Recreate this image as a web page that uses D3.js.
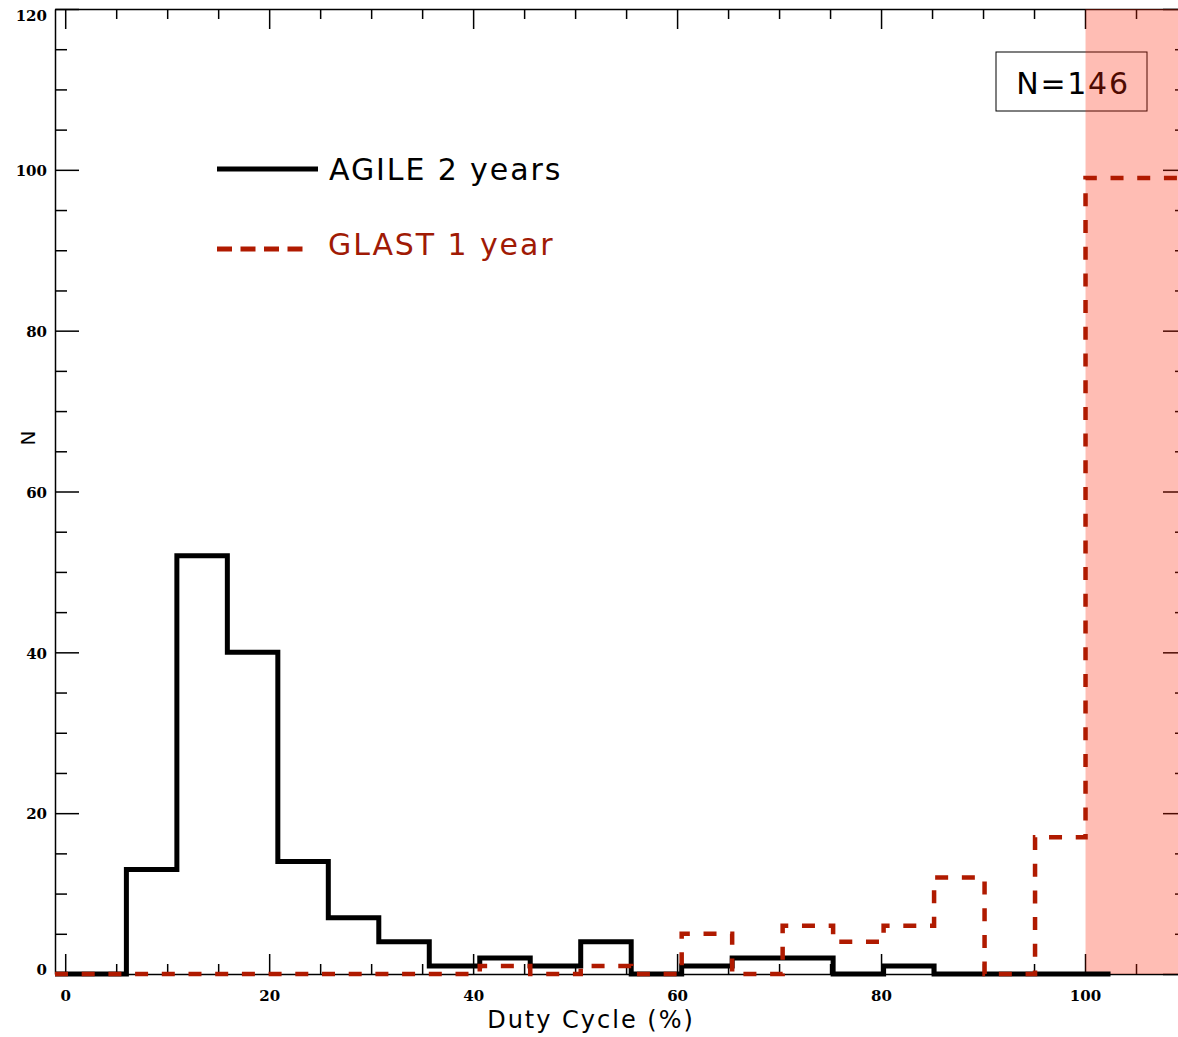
<!DOCTYPE html>
<html>
<head>
<meta charset="utf-8">
<script src="https://cdn.jsdelivr.net/npm/d3@7"></script>
<style>
  body { margin: 0; background: #fff; }
  .tick text { font-family: "DejaVu Serif", serif; font-weight: bold; font-size: 15px; fill: #000; }
  .domain, .tick line { stroke: #000; stroke-width: 1.5px; }
</style>
</head>
<body>
<div id="chart"></div>
<script>
// bin edges of the duty-cycle histogram (%), first bin starts at the plot edge
var binEdges = [-1, 6, 10.95, 15.9, 20.85, 25.8, 30.75, 35.7, 40.65, 45.6, 50.55,
                55.5, 60.45, 65.4, 70.35, 75.3, 80.25, 85.2, 90.15, 95.1, 100.05];
// counts per bin, last value = bin after 100.05
var agileCounts = [0, 13, 52, 40, 14, 7, 4, 1, 2, 1, 4, 0, 1, 2, 2, 0, 1, 0, 0, 0, 0];
var glastCounts = [0, 0, 0, 0, 0, 0, 0, 0, 1, 0, 1, 0, 5, 0, 6, 4, 6, 12, 0, 17, 99];
var agileEnd = 102.5;
var glastEnd = 110;

var xMajor = [0, 20, 40, 60, 80, 100];
var yMajor = [0, 20, 40, 60, 80, 100, 120];
var legendLabels = ["AGILE 2 years", "GLAST 1 year"];
var totalLabel = "N=146";

var width = 1178, height = 1037;
var redCol = "#b01a00";
var sans = "'DejaVu Sans', Verdana, sans-serif";

var svg = d3.select("#chart").append("svg")
    .attr("width", width)
    .attr("height", height);

var x = d3.scaleLinear().domain([-1, 110]).range([55, 1187]);
var y = d3.scaleLinear().domain([0, 120]).range([974, 9]);

var xMinor = d3.range(0, 111, 5).filter(function (d) { return d % 20 != 0; });
var yMinor = d3.range(0, 121, 5).filter(function (d) { return d % 20 != 0; });

// axes (IDL style box, ticks inward)
svg.append("g").attr("transform", "translate(0," + y(0) + ")")
    .call(d3.axisBottom(x).tickValues(xMajor).tickSize(-20).tickSizeOuter(0).tickPadding(16));
svg.append("g").attr("transform", "translate(0," + y(0) + ")")
    .call(d3.axisBottom(x).tickValues(xMinor).tickSize(-10).tickFormat(""))
    .select(".domain").remove();

svg.append("g").attr("transform", "translate(0," + y(120) + ")")
    .call(d3.axisTop(x).tickValues(xMajor).tickSize(-20).tickSizeOuter(0).tickFormat(""));
svg.append("g").attr("transform", "translate(0," + y(120) + ")")
    .call(d3.axisTop(x).tickValues(xMinor).tickSize(-10).tickFormat(""))
    .select(".domain").remove();

var left = svg.append("g").attr("transform", "translate(" + x(-1) + ",0)")
    .call(d3.axisLeft(y).tickValues(yMajor).tickSize(-24).tickSizeOuter(0).tickPadding(8));
svg.append("g").attr("transform", "translate(" + x(-1) + ",0)")
    .call(d3.axisLeft(y).tickValues(yMinor).tickSize(-12).tickFormat(""))
    .select(".domain").remove();

svg.append("g").attr("transform", "translate(" + x(110) + ",0)")
    .call(d3.axisRight(y).tickValues(yMajor).tickSize(-24).tickSizeOuter(0).tickFormat(""));
svg.append("g").attr("transform", "translate(" + x(110) + ",0)")
    .call(d3.axisRight(y).tickValues(yMinor).tickSize(-12).tickFormat(""))
    .select(".domain").remove();

// keep the end labels inside the box, like IDL
left.selectAll(".tick text")
    .attr("dy", function (d) { return d == 0 ? "0.0em" : d == 120 ? "0.75em" : "0.38em"; });

// axis titles
svg.append("text")
    .attr("x", 591).attr("y", 1028)
    .attr("text-anchor", "middle")
    .style("font-family", sans)
    .style("font-size", "24px")
    .style("letter-spacing", "2px")
    .text("Duty Cycle (%)");

svg.append("text")
    .attr("transform", "translate(35,438)rotate(-90)")
    .attr("text-anchor", "middle")
    .style("font-family", sans)
    .style("font-size", "20px")
    .text("N");

// total box
svg.append("rect")
    .attr("x", 996).attr("y", 52).attr("width", 151).attr("height", 59)
    .attr("fill", "none").attr("stroke", "#000").attr("stroke-width", 1);
svg.append("text")
    .attr("x", 1073).attr("y", 94)
    .attr("text-anchor", "middle")
    .style("font-family", sans)
    .style("font-size", "30px")
    .style("letter-spacing", "1.7px")
    .text(totalLabel);

// shaded region beyond 100%
svg.append("rect")
    .attr("x", x(100.05)).attr("y", y(120))
    .attr("width", x(110) - x(100.05)).attr("height", y(0) - y(120))
    .attr("fill", "#ff2605").attr("opacity", 0.3);

// histograms
svg.append("clipPath").attr("id", "plotclip")
    .append("rect")
    .attr("x", x(-1)).attr("y", y(120) - 5)
    .attr("width", x(110) - x(-1)).attr("height", y(0) - y(120) + 10);

function stepPoints(counts, end) {
    var pts = binEdges.map(function (e, i) { return [e, counts[i]]; });
    pts.push([end, counts[counts.length - 1]]);
    return pts;
}

var line = d3.line()
    .x(function (d) { return x(d[0]); })
    .y(function (d) { return y(d[1]); })
    .curve(d3.curveStepAfter);

var hist = svg.append("g").attr("clip-path", "url(#plotclip)");

hist.append("path")
    .datum(stepPoints(agileCounts, agileEnd))
    .attr("d", line)
    .attr("fill", "none")
    .attr("stroke", "#000")
    .attr("stroke-width", 5)
    .attr("stroke-linejoin", "miter");

hist.append("path")
    .datum(stepPoints(glastCounts, glastEnd))
    .attr("d", line)
    .attr("fill", "none")
    .attr("stroke", redCol)
    .attr("stroke-width", 4.5)
    .attr("stroke-dasharray", "13,13.7");

// legend
var legend = svg.append("g");
legend.append("line")
    .attr("x1", 217).attr("x2", 318).attr("y1", 169).attr("y2", 169)
    .attr("stroke", "#000").attr("stroke-width", 5);
legend.append("line")
    .attr("x1", 217).attr("x2", 310).attr("y1", 249).attr("y2", 249)
    .attr("stroke", redCol).attr("stroke-width", 5)
    .attr("stroke-dasharray", "15,8.5");

legend.selectAll("text.leg").data(legendLabels)
    .enter().append("text")
    .attr("class", "leg")
    .attr("x", function (d, i) { return i == 0 ? 329 : 328; })
    .attr("y", function (d, i) { return i == 0 ? 180 : 255; })
    .attr("fill", function (d, i) { return i == 0 ? "#000" : "#a01a05"; })
    .style("font-family", sans)
    .style("font-size", "30px")
    .style("letter-spacing", "1.9px")
    .text(function (d) { return d; });
</script>
</body>
</html>
